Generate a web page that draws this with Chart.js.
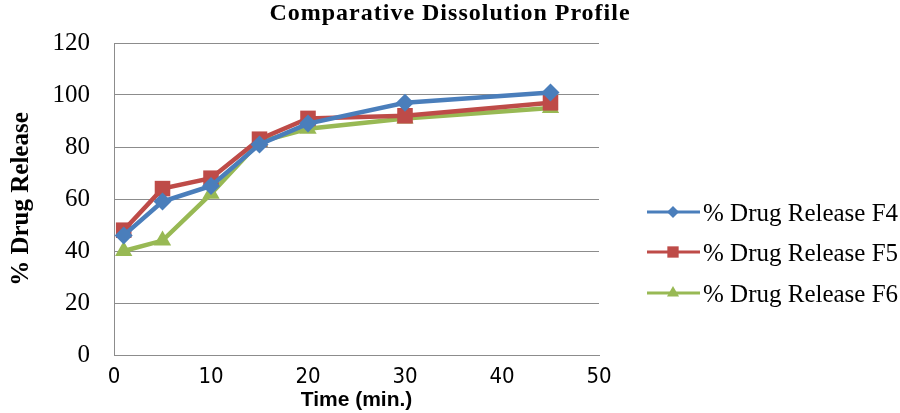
<!DOCTYPE html>
<html>
<head>
<meta charset="utf-8">
<script src="https://cdn.jsdelivr.net/npm/chart.js@4/dist/chart.umd.min.js"></script>
<style>
html,body{margin:0;padding:0;background:#fff;}
#wrap{width:900px;height:413px;position:relative;}
</style>
</head>
<body>
<div id="wrap"><canvas id="c" width="900" height="413"></canvas></div>
<script>
const chartTitle = 'Comparative Dissolution Profile';
const times = [1, 5, 10, 15, 20, 30, 45];
const releaseF4 = [46, 59, 65, 81, 89, 97, 101];
const releaseF5 = [48, 64, 68, 83, 91, 92, 97];
const releaseF6 = [40, 44, 62, 82, 87, 91, 95];
const seriesLabels = ['% Drug Release F4', '% Drug Release F5', '% Drug Release F6'];
const xTicks = [0, 10, 20, 30, 40, 50];
const yTicks = [0, 20, 40, 60, 80, 100, 120];

const colors = ['#4A7EBB', '#BE4B48', '#98B954'];
const styles = ['rectRot', 'rect', 'triangle'];
const radii = [9, 11, 10];
const legendRadii = [6, 8, 7];
const allSeries = [releaseF4, releaseF5, releaseF6];

const datasets = allSeries.map((vals, i) => ({
  label: seriesLabels[i],
  data: times.map((t, j) => ({x: t, y: vals[j]})),
  borderColor: colors[i],
  backgroundColor: colors[i],
  borderWidth: 4.5,
  pointStyle: styles[i],
  pointRadius: radii[i],
  pointBorderWidth: 0,
  tension: 0,
  fill: false
}));

const decorPlugin = {
  id: 'decor',
  afterDraw(chart) {
    const ctx = chart.ctx;
    ctx.save();
    // title, centred on the whole canvas
    ctx.fillStyle = '#000';
    ctx.font = 'bold 24px "Liberation Serif"';
    ctx.letterSpacing = '1px';
    ctx.textAlign = 'center';
    ctx.textBaseline = 'middle';
    ctx.fillText(chartTitle, 450, 14);
    ctx.letterSpacing = '0px';
    // legend
    const rows = [212, 252, 293];
    chart.data.datasets.forEach((ds, i) => {
      const y = rows[i];
      ctx.strokeStyle = ds.borderColor;
      ctx.lineWidth = 3;
      ctx.beginPath();
      ctx.moveTo(647, y);
      ctx.lineTo(700, y);
      ctx.stroke();
      ctx.fillStyle = ds.backgroundColor;
      Chart.helpers.drawPoint(ctx, {pointStyle: ds.pointStyle, radius: legendRadii[i], rotation: 0, borderWidth: 0}, 673, y);
      ctx.fillStyle = '#000';
      ctx.font = '25px "Liberation Serif"';
      ctx.textBaseline = 'middle';
      ctx.textAlign = 'left';
      ctx.fillText(ds.label, 703, y + 2);
    });
    ctx.restore();
  }
};

new Chart(document.getElementById('c'), {
  type: 'line',
  data: {datasets},
  plugins: [decorPlugin],
  options: {
    responsive: false,
    animation: false,
    layout: {padding: {left: 0, right: 301, top: 43, bottom: 0}},
    plugins: {
      legend: {display: false},
      tooltip: {enabled: false},
      title: {display: false}
    },
    scales: {
      x: {
        type: 'linear',
        min: 0, max: 50,
        afterBuildTicks: (s) => { s.ticks = xTicks.map(v => ({value: v})); },
        afterFit: (s) => { s.height = 58; },
        grid: {display: false, drawTicks: false},
        border: {display: true, color: '#8c8c8c', width: 1},
        ticks: {color: '#000', padding: 9, font: {family: '"Liberation Sans Narrow", "DejaVu Sans Condensed", "Liberation Sans"', size: 22}, maxRotation: 0},
        title: {display: true, text: 'Time (min.)', color: '#000', font: {family: '"Liberation Sans"', size: 21, weight: 'bold'}, padding: {top: 0, bottom: 0}}
      },
      y: {
        type: 'linear',
        min: 0, max: 120,
        afterBuildTicks: (s) => { s.ticks = yTicks.map(v => ({value: v})); },
        afterFit: (s) => { s.width = 114; },
        grid: {color: '#8c8c8c', lineWidth: 1, drawTicks: false},
        border: {display: true, color: '#8c8c8c', width: 1},
        ticks: {color: '#000', padding: 24, font: {family: '"Liberation Serif"', size: 25}},
        title: {display: true, text: '% Drug Release', color: '#000', font: {family: '"Liberation Serif"', size: 25, weight: 'bold'}, padding: {top: 7, bottom: 7}}
      }
    }
  }
});
</script>
</body>
</html>
